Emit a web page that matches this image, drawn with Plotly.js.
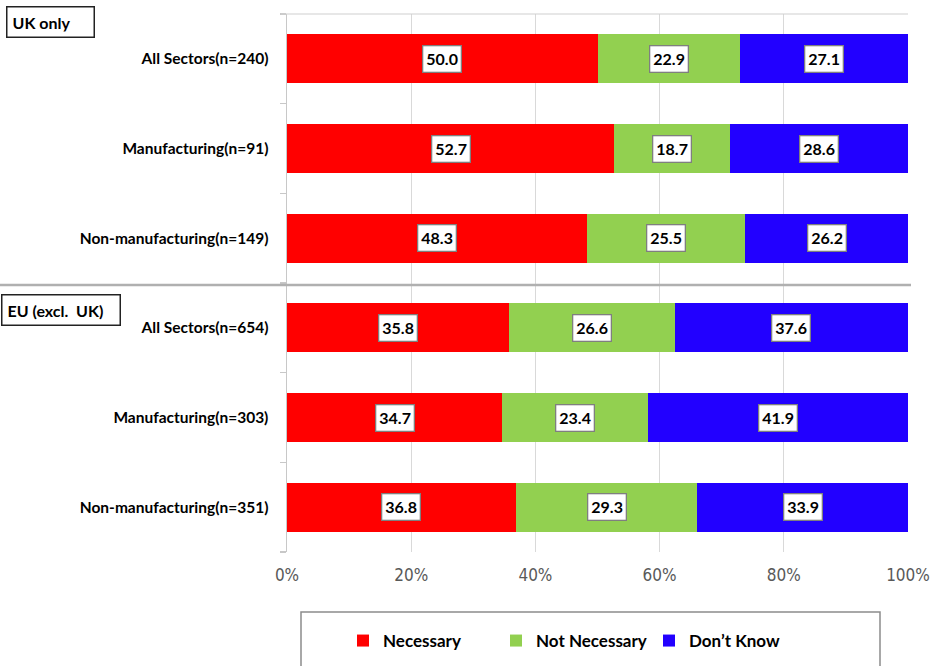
<!DOCTYPE html>
<html><head><meta charset="utf-8">
<script src="https://cdn.plot.ly/plotly-3.0.1.min.js"></script>
<style>body{margin:0;background:#fff}#chart{width:931px;height:666px}</style>
</head><body><div id="chart"></div>
<script>
const categories = ["All Sectors(n=240)","Manufacturing(n=91)","Non-manufacturing(n=149)","All Sectors(n=654)","Manufacturing(n=303)","Non-manufacturing(n=351)"];
const groupLabels = ["UK only","EU (excl.  UK)"];
const necessary = [50.0, 52.7, 48.3, 35.8, 34.7, 36.8];
const notNecessary = [22.9, 18.7, 25.5, 26.6, 23.4, 29.3];
const dontKnow = [27.1, 28.6, 26.2, 37.6, 41.9, 33.9];
const seriesNames = ["Necessary","Not Necessary","Don\u2019t Know"];
const xTickVals = [0,20,40,60,80,100];

const colors = ["#FF0000","#92D050","#2200FF"];
const series = [necessary, notNecessary, dontKnow];
const yIdx = categories.map((c,i)=>i);
const font = "Lato, 'Open Sans', sans-serif";

const traces = series.map((vals,k)=>({
  type:'bar', orientation:'h', x: vals, y: yIdx, name: seriesNames[k],
  marker:{color: colors[k]}, width:0.545, hoverinfo:'x+name'
}));

const annotations = [];
yIdx.forEach(i=>{
  let cum = 0;
  series.forEach(vals=>{
    const v = vals[i];
    annotations.push({x: cum + v/2, y: i, xref:'x', yref:'y', text: '<b>'+v.toFixed(1)+'</b>',
      showarrow:false, bgcolor:'#fff', bordercolor:'#7f7f7f', borderwidth:1.3, borderpad:3,
      font:{family:font, size:16, color:'#000'}});
    cum += v;
  });
});
const W=621, H=538, L=287, T=14;
const px = v => (v-L)/W, py = v => (T+H - v)/H;
annotations.push({xref:'paper', yref:'paper', x:px(6), y:py(6), xanchor:'left', yanchor:'top', showarrow:false,
  text:'<b>'+groupLabels[0]+'</b>', bgcolor:'#fff', bordercolor:'#222', borderwidth:1.5, borderpad:5,
  font:{family:font,size:16,color:'#000'}, width:76, align:'left'});
annotations.push({xref:'paper', yref:'paper', x:px(1), y:py(294), xanchor:'left', yanchor:'top', showarrow:false,
  text:'<b>'+groupLabels[1]+'</b>', bgcolor:'#fff', bordercolor:'#222', borderwidth:1.5, borderpad:5,
  font:{family:font,size:16,color:'#000'}, width:107, align:'left'});

const shapes = [
  {type:'line', xref:'paper', yref:'paper', x0:px(281), x1:1, y0:1, y1:1, line:{color:'#d0d0d0', width:1.2}},
  {type:'line', xref:'paper', yref:'paper', x0:px(0), x1:px(911), y0:py(285), y1:py(285), line:{color:'#b0b0b0', width:2.5}},
  {type:'rect', xref:'paper', yref:'paper', x0:px(301), x1:px(880), y0:py(612), y1:py(668), line:{color:'#8c8c8c', width:1.5}, fillcolor:'rgba(0,0,0,0)'}
];

const layout = {
  width:931, height:666, margin:{l:L, r:931-L-W, t:T, b:666-T-H, autoexpand:false},
  paper_bgcolor:'#fff', plot_bgcolor:'#fff', barmode:'stack', bargap:0.455,
  font:{family:font},
  showlegend:true,
  legend:{orientation:'h', x:px(343), y:py(623), xanchor:'left', yanchor:'top',
    entrywidth:108, entrywidthmode:'pixels', traceorder:'normal', itemwidth:30,
    font:{family:font, size:17, color:'#000', weight:'bold'}, bgcolor:'rgba(0,0,0,0)'},
  xaxis:{range:[0,100], tickvals:xTickVals, ticktext:xTickVals.map(v=>v+'%'), showgrid:true, gridcolor:'#d9d9d9', gridwidth:1.3,
    zeroline:false, showline:false, ticks:'', ticklabelstandoff:11,
    tickfont:{family:"'Liberation Sans Narrow','DejaVu Sans Condensed',sans-serif", size:17, color:'#595959'}},
  yaxis:{range:[5.5,-0.5], tickvals:yIdx, ticktext:categories.map(c=>'<b>'+c+'</b>'), ticks:'', showgrid:false, zeroline:false,
    showline:true, linecolor:'#c8c8c8', linewidth:1.5, ticklabelstandoff:14,
    tickfont:{family:font, size:15.5, color:'#000'},
    minor:{tickvals:[-0.5,0.5,1.5,2.5,3.5,4.5,5.5], ticks:'outside', ticklen:6, tickcolor:'#c8c8c8', tickwidth:1.3, showgrid:false}},
  annotations, shapes
};
Plotly.newPlot('chart', traces, layout, {displayModeBar:false, staticPlot:true});
</script></body></html>
